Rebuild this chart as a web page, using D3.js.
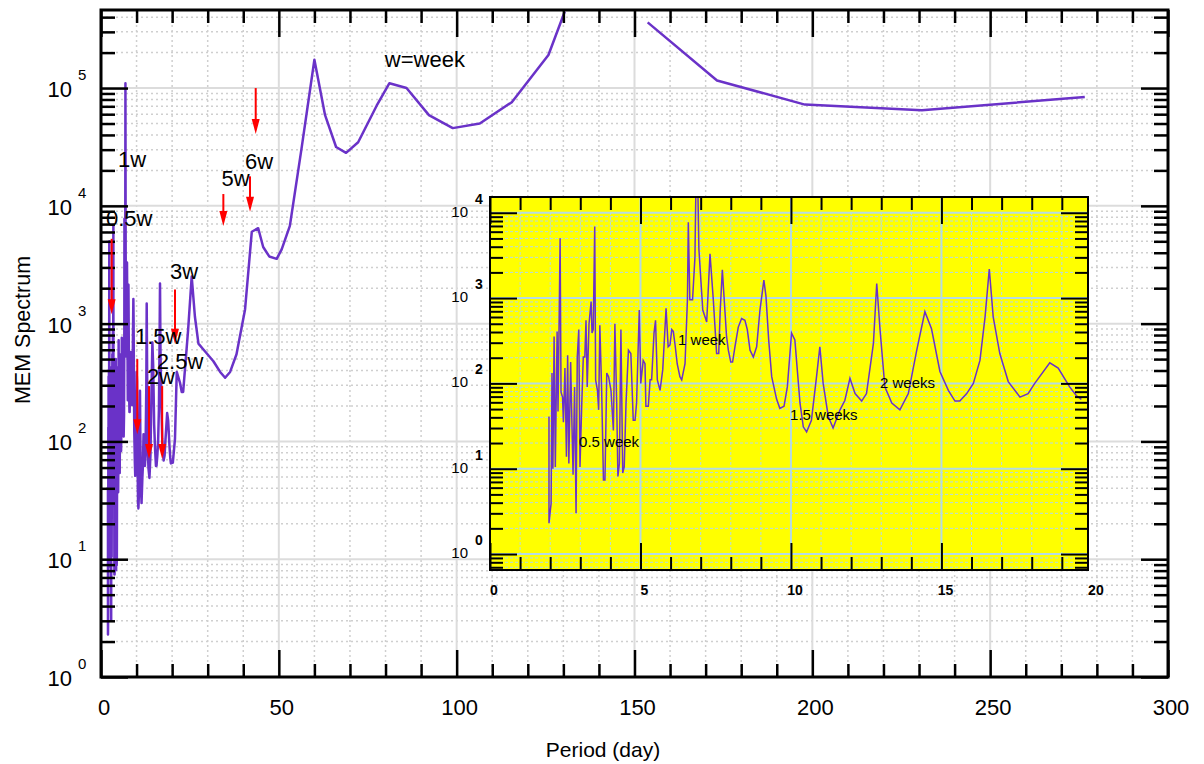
<!DOCTYPE html>
<html>
<head>
<meta charset="utf-8">
<script src="https://cdn.jsdelivr.net/npm/d3@7"></script>
<style>
body { margin: 0; background: #fff; }
text { font-family: "Liberation Sans", Arial, sans-serif; }
</style>
</head>
<body>
<div id="chart"></div>
<script>
// period (days) and MEM spectrum
var periodDays = [
  1.96,1.96,2.03,2.06,2.09,2.13,2.17,2.23,2.26,2.33,
  2.36,2.41,2.44,2.49,2.54,2.58,2.62,2.68,2.72,2.76,
  2.81,2.86,2.90,2.95,2.99,3.05,3.10,3.15,3.19,3.23,
  3.29,3.36,3.39,3.43,3.48,3.51,3.57,3.61,3.65,3.71,
  3.77,3.82,3.88,3.94,4.02,4.10,4.15,4.21,4.25,4.30,
  4.35,4.41,4.46,4.52,4.60,4.68,4.76,4.82,4.87,4.96,
  5.01,5.09,5.15,5.18,5.26,5.32,5.37,5.45,5.50,5.56,
  5.65,5.74,5.85,5.92,5.98,6.04,6.09,6.15,6.22,6.31,
  6.37,6.48,6.56,6.59,6.64,6.73,6.81,6.87,6.94,7.07,
  7.20,7.31,7.42,7.53,7.60,7.65,7.72,7.79,7.86,7.92,
  8.00,8.06,8.14,8.25,8.36,8.47,8.55,8.64,8.75,8.86,
  8.97,9.10,9.17,9.26,9.36,9.52,9.63,9.77,9.88,10.02,
  10.13,10.30,10.41,10.52,10.68,10.85,10.96,11.07,11.24,11.40,
  11.63,11.79,11.96,12.13,12.35,12.51,12.74,12.85,12.96,13.12,
  13.35,13.62,13.90,14.18,14.45,14.67,14.95,15.23,15.45,15.61,
  15.84,16.06,16.28,16.45,16.59,16.72,16.94,17.22,17.61,17.88,
  18.10,18.60,18.88,19.26,19.48,19.65,
  20.2,20.8,21.3,22.2,22.7,23.1,23.6,24.5,25.5,26.4,
  27.4,28.8,31.6,33.5,34.9,36.3,38.1,40.5,42.4,44.2,
  45.6,47.3,49.4,50.8,53.1,56.4,60.0,63.0,66.1,68.9,
  72.3,77.5,81.1,85.9,92.2,98.9,106.5,115.5,125.8,130.4,
  141,153.7,173.2,197.9,230.8,276.6
];
var memSpectrum = [
  41,2.3,3.9,132,10,355,10.5,407,47,5010,
  79,69,35,151,13.8,214,11.5,178,37,8.5,
  91,3.0,204,427,10.5,59,204,204,550,91,
  501,912,389,427,6920,110,83,49,479,83,
  7.4,7.4,132,120,83,28,501,59,8.1,11.5,
  427,8.9,10.5,59,245,224,37,37,59,724,
  100,186,170,54,54,110,110,389,550,110,
  83,145,759,269,282,427,407,282,170,120,
  110,170,955,7760,955,955,3020,110000,3800,724,
  525,3310,955,224,224,724,2140,871,355,245,
  178,178,269,457,575,550,427,245,204,269,
  724,1620,1050,324,120,66,51,54,91,389,
  324,59,31,27,37,120,269,100,41,30,
  49,63,115,76,62,76,295,1480,427,91,
  59,49,76,245,692,437,138,83,62,62,
  76,100,186,603,2190,603,224,105,69,76,
  100,174,151,91,72,65,
  66,105,389,316,263,263,407,891,2510,1150,
  676,603,479,389,347,389,550,1320,6030,6460,
  4470,3720,3550,4270,6760,30900,174000,58900,31600,28200,
  34700,70800,110000,100000,58900,45700,50100,75900,191000,447000,
  1000000,361000,116000,72400,64700,84100
];

// main axes ticks
var xMajorTicks = [0, 50, 100, 150, 200, 250, 300];
var xMinorTicks = [10,20,30,40,60,70,80,90,110,120,130,140,160,170,180,190,210,220,230,240,260,270,280,290];
var yExponents = [0, 1, 2, 3, 4, 5];

// inset ticks
var insetXMajor = [0, 5, 10, 15, 20];
var insetXMinor = [1,2,3,4,6,7,8,9,11,12,13,14,16,17,18,19];
var insetExponents = [0, 1, 2, 3, 4];

// red arrows: period, start value, tip value
var arrowPeriod = [3.0, 10.2, 13.5, 17.2, 20.8, 34.4, 41.9, 43.5];
var arrowFrom   = [5250, 500, 295, 295, 1950, 12600, 17800, 100000];
var arrowTo     = [1200, 115, 71, 71, 676, 6760, 8900, 40700];

// main annotations (left edge, baseline) in data units
var noteText   = ["1w", "0.5w", "5w", "6w", "3w", "1.5w", "2.5w", "2w", "w=week"];
var notePeriod = [4.78, 1.4, 33.9, 40.5, 19.4, 9.56, 15.7, 12.9, 79.8];
var noteValue  = [21500, 6760, 14800, 20500, 2400, 673, 409, 307, 152000];

// inset annotations
var insetText   = ["0.5 week", "1 week", "1.5 weeks", "2 weeks"];
var insetPeriod = [2.96, 6.25, 9.97, 12.96];
var insetValue  = [17.9, 282, 37.2, 88.3];

var lineColor = "#6a32c8";

var svg = d3.select("#chart").append("svg")
    .attr("width", 1204)
    .attr("height", 764);
svg.append("rect").attr("width", 1204).attr("height", 764).attr("fill", "#fff");

var x = d3.scaleLinear().domain([0, 300]).range([101, 1168]);
var y = d3.scaleLog().domain([1, 4.6e5]).range([677, 10]);

function logMinor(lo, hi) {
  var out = [];
  for (var d = Math.floor(Math.log10(lo)); d <= Math.ceil(Math.log10(hi)); d++) {
    for (var k = 2; k <= 9; k++) {
      var v = k * Math.pow(10, d);
      if (v >= lo && v <= hi) out.push(v);
    }
  }
  return out;
}

var data = periodDays.map(function(p, i) { return { p: p, v: memSpectrum[i] }; });
var yMajor = yExponents.map(function(e) { return Math.pow(10, e); });
var yMinor = logMinor(y.domain()[0], y.domain()[1]);

var x0 = x.range()[0], x1 = x.range()[1], yTop = y.range()[1], yBot = y.range()[0];

// grid
var grid = svg.append("g");
grid.selectAll(".vmin").data(xMinorTicks).enter().append("line")
  .attr("x1", x).attr("x2", x).attr("y1", yTop).attr("y2", yBot)
  .attr("stroke", "#cfcfcf").attr("stroke-width", 1.5).attr("stroke-dasharray", "2,3");
grid.selectAll(".hmin").data(yMinor).enter().append("line")
  .attr("x1", x0).attr("x2", x1).attr("y1", y).attr("y2", y)
  .attr("stroke", "#cfcfcf").attr("stroke-width", 1.5).attr("stroke-dasharray", "2,3");
grid.selectAll(".vmaj").data(xMajorTicks.slice(1, -1)).enter().append("line")
  .attr("x1", x).attr("x2", x).attr("y1", yTop).attr("y2", yBot)
  .attr("stroke", "#dcdcdc").attr("stroke-width", 2);
grid.selectAll(".hmaj").data(yMajor.slice(1)).enter().append("line")
  .attr("x1", x0).attr("x2", x1).attr("y1", y).attr("y2", y)
  .attr("stroke", "#dcdcdc").attr("stroke-width", 2);

// main line
svg.append("clipPath").attr("id", "mainclip").append("rect")
  .attr("x", x0).attr("y", yTop).attr("width", x1 - x0).attr("height", yBot - yTop);

var line = d3.line()
  .defined(function(d) { return d.v <= y.domain()[1]; })
  .x(function(d) { return x(d.p); })
  .y(function(d) { return y(d.v); });

svg.append("path")
  .datum(data)
  .attr("clip-path", "url(#mainclip)")
  .attr("d", line)
  .attr("fill", "none")
  .attr("stroke", lineColor)
  .attr("stroke-width", 2.5)
  .attr("stroke-linejoin", "round");

// ticks, all pointing inward
function ticks(gen, values, size, tx, ty, width) {
  var g = svg.append("g").attr("transform", "translate(" + tx + "," + ty + ")")
    .call(gen.tickValues(values).tickSize(size).tickFormat(""));
  g.select(".domain").remove();
  g.selectAll("line").attr("stroke", "#000").attr("stroke-width", width);
}
ticks(d3.axisBottom(x), xMinorTicks, -13, 0, yBot, 2.5);
ticks(d3.axisBottom(x), xMajorTicks, -27, 0, yBot, 2.5);
ticks(d3.axisTop(x), xMinorTicks, -13, 0, yTop, 2.5);
ticks(d3.axisTop(x), xMajorTicks, -27, 0, yTop, 2.5);
ticks(d3.axisLeft(y), yMinor, -14, x0, 0, 2.5);
ticks(d3.axisLeft(y), yMajor, -27, x0, 0, 2.5);
ticks(d3.axisRight(y), yMinor, -14, x1, 0, 2.5);
ticks(d3.axisRight(y), yMajor, -27, x1, 0, 2.5);

svg.append("rect")
  .attr("x", x0).attr("y", yTop).attr("width", x1 - x0).attr("height", yBot - yTop)
  .attr("fill", "none").attr("stroke", "#000").attr("stroke-width", 3);

// tick labels
svg.selectAll(".xl").data(xMajorTicks).enter().append("text")
  .attr("x", function(d) { return x(d) + 3; })
  .attr("y", 715)
  .attr("text-anchor", "middle")
  .attr("font-size", 22)
  .text(function(d) { return d; });

yExponents.forEach(function(e) {
  var yy = y(Math.pow(10, e));
  svg.append("text").attr("x", 72).attr("y", yy + 9)
    .attr("text-anchor", "end").attr("font-size", 22).text("10");
  svg.append("text").attr("x", 78).attr("y", yy - 8)
    .attr("font-size", 15).text(e);
});

svg.append("text")
  .attr("x", 603).attr("y", 757)
  .attr("text-anchor", "middle").attr("font-size", 21)
  .text("Period (day)");
svg.append("text")
  .attr("transform", "translate(30,330) rotate(-90)")
  .attr("text-anchor", "middle").attr("font-size", 21.5)
  .text("MEM Spectrum");

// arrows
arrowPeriod.forEach(function(p, i) {
  var ax = x(p), ya = y(arrowFrom[i]), yb = y(arrowTo[i]);
  svg.append("line").attr("x1", ax).attr("x2", ax).attr("y1", ya).attr("y2", yb - 10)
    .attr("stroke", "#ff0000").attr("stroke-width", 2);
  svg.append("path")
    .attr("d", "M" + (ax - 4) + "," + (yb - 15) + "L" + (ax + 4) + "," + (yb - 15) + "L" + ax + "," + yb + "Z")
    .attr("fill", "#ff0000");
});

// annotations
noteText.forEach(function(t, i) {
  svg.append("text")
    .attr("x", x(notePeriod[i])).attr("y", y(noteValue[i]))
    .attr("font-size", 22).text(t);
});

// ---------- inset ----------
var xi = d3.scaleLinear().domain([0, 19.87]).range([490, 1088]);
var yi = d3.scaleLog().domain([0.65, 15300]).range([570, 197]);
var ix0 = xi.range()[0], ix1 = xi.range()[1], iyTop = yi.range()[1], iyBot = yi.range()[0];
var iyMajor = insetExponents.map(function(e) { return Math.pow(10, e); });
var iyMinor = logMinor(yi.domain()[0], yi.domain()[1]);

svg.append("rect")
  .attr("x", ix0).attr("y", iyTop).attr("width", ix1 - ix0).attr("height", iyBot - iyTop)
  .attr("fill", "#ffff00");

var igrid = svg.append("g");
var gridBlue = "#b5dbe3";
igrid.selectAll(".vmin").data(insetXMinor).enter().append("line")
  .attr("x1", xi).attr("x2", xi).attr("y1", iyTop).attr("y2", iyBot)
  .attr("stroke", gridBlue).attr("stroke-width", 1).attr("stroke-dasharray", "3,2");
igrid.selectAll(".hmin").data(iyMinor).enter().append("line")
  .attr("x1", ix0).attr("x2", ix1).attr("y1", yi).attr("y2", yi)
  .attr("stroke", gridBlue).attr("stroke-width", 1).attr("stroke-dasharray", "3,2");
igrid.selectAll(".vmaj").data(insetXMajor.slice(1, -1)).enter().append("line")
  .attr("x1", xi).attr("x2", xi).attr("y1", iyTop).attr("y2", iyBot)
  .attr("stroke", gridBlue).attr("stroke-width", 2);
igrid.selectAll(".hmaj").data(iyMajor).enter().append("line")
  .attr("x1", ix0).attr("x2", ix1).attr("y1", yi).attr("y2", yi)
  .attr("stroke", gridBlue).attr("stroke-width", 2);

svg.append("clipPath").attr("id", "insetclip").append("rect")
  .attr("x", ix0).attr("y", iyTop).attr("width", ix1 - ix0).attr("height", iyBot - iyTop);

var insetLine = d3.line()
  .x(function(d) { return xi(d.p); })
  .y(function(d) { return yi(d.v); });

svg.append("path")
  .datum(data.filter(function(d) { return d.p <= xi.domain()[1]; }))
  .attr("clip-path", "url(#insetclip)")
  .attr("d", insetLine)
  .attr("fill", "none")
  .attr("stroke", lineColor)
  .attr("stroke-width", 1.5);

var inXMaj = insetXMajor.filter(function(v) { return v <= xi.domain()[1]; });
ticks(d3.axisBottom(xi), insetXMinor, -13, 0, iyBot, 2);
ticks(d3.axisBottom(xi), inXMaj, -27, 0, iyBot, 2);
ticks(d3.axisTop(xi), insetXMinor, -13, 0, iyTop, 2);
ticks(d3.axisTop(xi), inXMaj, -27, 0, iyTop, 2);
ticks(d3.axisLeft(yi), iyMinor, -13, ix0, 0, 2);
ticks(d3.axisLeft(yi), iyMajor, -27, ix0, 0, 2);
ticks(d3.axisRight(yi), iyMinor, -13, ix1, 0, 2);
ticks(d3.axisRight(yi), iyMajor, -27, ix1, 0, 2);

svg.append("rect")
  .attr("x", ix0).attr("y", iyTop).attr("width", ix1 - ix0).attr("height", iyBot - iyTop)
  .attr("fill", "none").attr("stroke", "#000").attr("stroke-width", 2);

svg.selectAll(".ixl").data(insetXMajor).enter().append("text")
  .attr("x", function(d) { return xi(d) + 4; })
  .attr("y", 595)
  .attr("text-anchor", "middle")
  .attr("font-size", 14).attr("font-weight", "bold")
  .text(function(d) { return d; });

insetExponents.forEach(function(e) {
  var yy = yi(Math.pow(10, e));
  svg.append("text").attr("x", 468).attr("y", yy + 4)
    .attr("text-anchor", "end").attr("font-size", 15).text("10");
  svg.append("text").attr("x", 475).attr("y", yy - 9)
    .attr("font-size", 14).attr("font-weight", "bold").text(e);
});

insetText.forEach(function(t, i) {
  svg.append("text")
    .attr("x", xi(insetPeriod[i])).attr("y", yi(insetValue[i]))
    .attr("font-size", 15).text(t);
});
</script>
</body>
</html>
